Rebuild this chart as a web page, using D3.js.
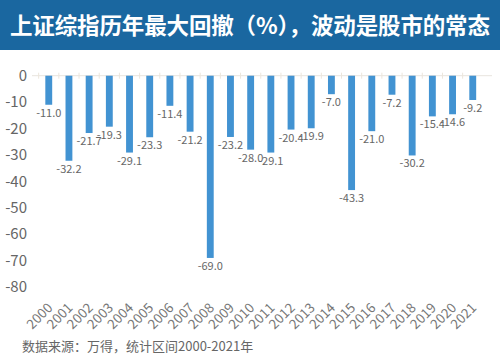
<!DOCTYPE html>
<html>
<head>
<meta charset="utf-8">
<script src="https://cdn.jsdelivr.net/npm/d3@7/dist/d3.min.js"></script>
<style>
  body { margin: 0; background: #fff; }
  svg { display: block; font-family: "Noto Sans CJK SC", "Noto Sans", sans-serif; }
</style>
</head>
<body>
<svg id="chart" width="500" height="354"></svg>
<script>
// 年份与最大回撤
const years = ["2000","2001","2002","2003","2004","2005","2006","2007","2008","2009","2010",
  "2011","2012","2013","2014","2015","2016","2017","2018","2019","2020","2021"];
const drawdowns = [-11.0,-32.2,-21.7,-19.3,-29.1,-23.3,-11.4,-21.2,-69.0,-23.2,-28.0,
  -29.1,-20.4,-19.9,-7.0,-43.3,-21.0,-7.2,-30.2,-15.4,-14.6,-9.2];
const yTicks = [0,-10,-20,-30,-40,-50,-60,-70,-80];

const svg = d3.select("#chart");
const width = +svg.attr("width");

// 标题栏
svg.append("rect").attr("x", 0).attr("y", 0).attr("width", width).attr("height", 50)
  .attr("fill", "#1a67a0");
svg.append("text").attr("x", 10).attr("y", 34)
  .attr("fill", "#fff").attr("font-size", 22.5).attr("font-weight", "bold")
  .attr("textLength", 480).attr("lengthAdjust", "spacing")
  .text("上证综指历年最大回撤（%），波动是股市的常态");

const x = d3.scaleBand().domain(years).range([32, 489.5]).padding(0.66);
const y = d3.scaleLinear().domain([-80, 0]).range([287, 75.7]);

// y轴刻度
svg.append("g").selectAll("text").data(yTicks).enter().append("text")
  .attr("x", 27).attr("y", d => y(d)).attr("dy", "0.35em")
  .attr("text-anchor", "end").attr("font-size", 15).attr("fill", "#666")
  .text(d => d);

// 零线
const zero = svg.append("g");
zero.append("line").attr("x1", 32).attr("x2", 492).attr("y1", y(0)).attr("y2", y(0))
  .attr("stroke", "#e8e4de").attr("stroke-width", 1);
zero.selectAll("line.tk").data(years).enter().append("line").attr("class", "tk")
  .attr("x1", d => x(d) - x.step() * x.paddingInner() / 2)
  .attr("x2", d => x(d) - x.step() * x.paddingInner() / 2)
  .attr("y1", y(0) - 3).attr("y2", y(0) + 3)
  .attr("stroke", "#ece6dc");

// 柱子
svg.append("g").selectAll("rect").data(drawdowns).enter().append("rect")
  .attr("x", (d, i) => x(years[i]))
  .attr("y", y(0))
  .attr("width", x.bandwidth())
  .attr("height", d => y(d) - y(0))
  .attr("fill", "#4293d2");

// 数值标签
svg.append("g").selectAll("text").data(drawdowns).enter().append("text")
  .attr("x", (d, i) => x(years[i]) + x.bandwidth() / 2)
  .attr("y", d => y(d) + 12)
  .attr("text-anchor", "middle").attr("font-size", 11).attr("fill", "#666")
  .text(d => d.toFixed(1));

// x轴年份
svg.append("g").selectAll("text").data(years).enter().append("text")
  .attr("transform", d => `translate(${x(d) + x.bandwidth() / 2 - 2},${302}) rotate(-45)`)
  .attr("text-anchor", "end").attr("dy", "0.7em")
  .attr("font-size", 13.5).attr("fill", "#777")
  .text(d => d);

// 数据来源
svg.append("text").attr("x", 22).attr("y", 351)
  .attr("font-size", 13).attr("fill", "#666")
  .text("数据来源：万得，统计区间2000-2021年");
</script>
</body>
</html>
